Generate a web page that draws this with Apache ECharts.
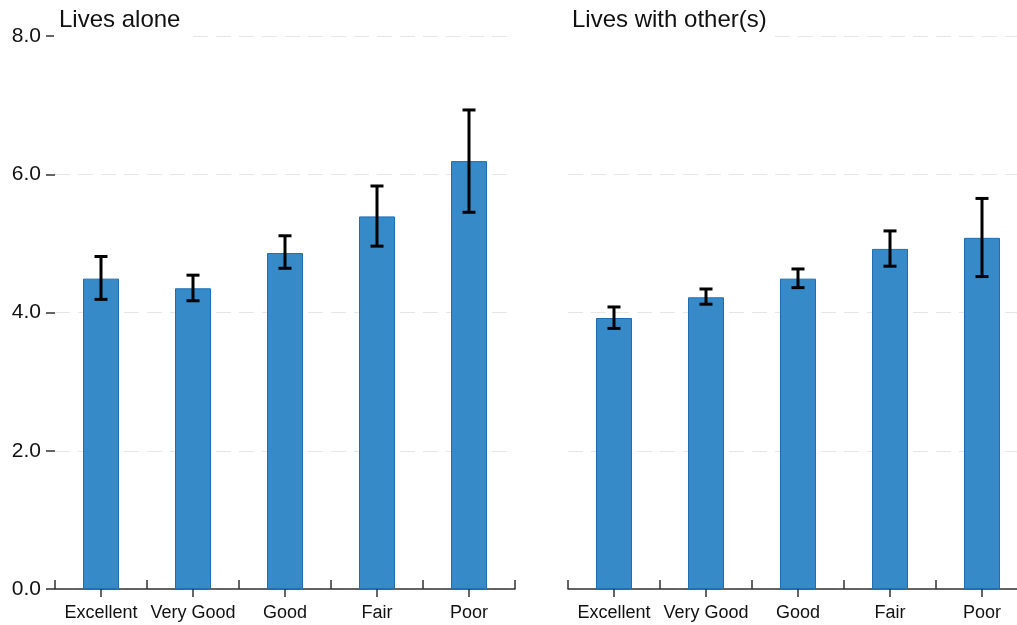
<!DOCTYPE html>
<html>
<head>
<meta charset="utf-8">
<script src="https://cdn.jsdelivr.net/npm/echarts@6/dist/echarts.min.js"></script>
<style>
html,body{margin:0;padding:0;background:#fff;}
#chart{width:1017px;height:625px;}
</style>
</head>
<body>
<div id="chart"></div>
<script>
const categories = ['Excellent', 'Very Good', 'Good', 'Fair', 'Poor'];
const panelTitles = ['Lives alone', 'Lives with other(s)'];
const aloneMean = [4.49, 4.35, 4.86, 5.39, 6.19];
const aloneLow  = [4.19, 4.17, 4.64, 4.96, 5.45];
const aloneHigh = [4.81, 4.54, 5.11, 5.83, 6.93];
const othersMean = [3.92, 4.22, 4.49, 4.92, 5.08];
const othersLow  = [3.77, 4.12, 4.36, 4.67, 4.52];
const othersHigh = [4.08, 4.34, 4.63, 5.18, 5.65];
const yMin = 0, yMax = 8, yInterval = 2;

const FONT = '"Liberation Sans", Arial, sans-serif';
const chart = echarts.init(document.getElementById('chart'), null, {renderer: 'canvas'});

function errData(lo, hi) {
  return categories.map((c, i) => [i, lo[i], hi[i]]);
}
function renderErr(params, api) {
  const x = api.value(0);
  const top = api.coord([x, api.value(2)]);
  const bot = api.coord([x, api.value(1)]);
  const hw = 6.5;
  const st = {stroke: '#000', lineWidth: 3};
  return {
    type: 'group',
    children: [
      {type: 'line', shape: {x1: top[0], y1: top[1], x2: bot[0], y2: bot[1]}, style: st},
      {type: 'line', shape: {x1: top[0] - hw, y1: top[1], x2: top[0] + hw, y2: top[1]}, style: st},
      {type: 'line', shape: {x1: bot[0] - hw, y1: bot[1], x2: bot[0] + hw, y2: bot[1]}, style: st}
    ]
  };
}

function labelAxis(gridIndex) {
  return {
    type: 'category', gridIndex: gridIndex, data: categories,
    axisLine: {show: true, lineStyle: {color: '#333', width: 1.5}},
    axisTick: {show: true, alignWithLabel: true, length: 8, inside: false, lineStyle: {color: '#333', width: 1.5}},
    axisLabel: {fontFamily: FONT, fontSize: 18, color: '#111', margin: 15, interval: 0}
  };
}
function boundAxis(gridIndex) {
  return {
    type: 'category', gridIndex: gridIndex, data: categories, position: 'bottom',
    axisLine: {show: false},
    axisTick: {show: true, alignWithLabel: false, inside: true, length: 9, interval: 0, lineStyle: {color: '#333', width: 1.5}},
    axisLabel: {show: false}
  };
}
function yAxis(gridIndex, showLabels) {
  return {
    type: 'value', gridIndex: gridIndex, min: yMin, max: yMax, interval: yInterval,
    axisLine: {show: false},
    axisTick: {show: showLabels, length: 9, lineStyle: {color: '#333', width: 1.5}},
    axisLabel: {show: showLabels, fontFamily: FONT, fontSize: 21, color: '#111', margin: 14,
      padding: [4, 0, 0, 0], formatter: v => v.toFixed(1)},
    splitLine: {show: true, lineStyle: {color: '#e6e6e6', width: 1, type: [15, 8]}}
  };
}
const barStyle = {color: '#368ac7', borderColor: '#1f6db2', borderWidth: 1};

chart.setOption({
  animation: false,
  backgroundColor: '#fff',
  title: [
    {text: panelTitles[0], left: 54, top: 3, padding: [5, 6, 6, 5], backgroundColor: '#fff',
      textStyle: {fontFamily: FONT, fontSize: 24, fontWeight: 'normal', color: '#111'}},
    {text: panelTitles[1], left: 567, top: 3, padding: [5, 6, 6, 5], backgroundColor: '#fff',
      textStyle: {fontFamily: FONT, fontSize: 24, fontWeight: 'normal', color: '#111'}}
  ],
  grid: [
    {left: 55, top: 36, width: 460, height: 553, outerBoundsMode: 'none'},
    {left: 568, top: 36, right: -11, height: 553, outerBoundsMode: 'none'}
  ],
  xAxis: [labelAxis(0), boundAxis(0), labelAxis(1), boundAxis(1)],
  yAxis: [yAxis(0, true), yAxis(1, false)],
  series: [
    {type: 'bar', xAxisIndex: 0, yAxisIndex: 0, data: aloneMean, barWidth: 36, itemStyle: barStyle},
    {type: 'custom', xAxisIndex: 0, yAxisIndex: 0, data: errData(aloneLow, aloneHigh), renderItem: renderErr, z: 5},
    {type: 'bar', xAxisIndex: 2, yAxisIndex: 1, data: othersMean, barWidth: 36, itemStyle: barStyle},
    {type: 'custom', xAxisIndex: 2, yAxisIndex: 1, data: errData(othersLow, othersHigh), renderItem: renderErr, z: 5}
  ]
});
</script>
</body>
</html>
